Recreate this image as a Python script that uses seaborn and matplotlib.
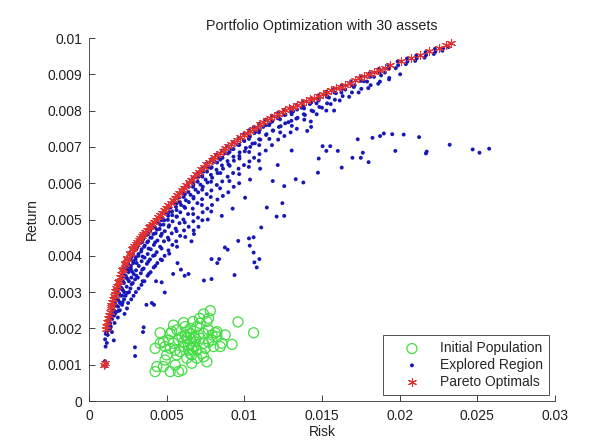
import matplotlib
matplotlib.use("Agg")
import matplotlib.pyplot as plt
import seaborn as sns

# ---------------- data ----------------
initial_risk = [0.00959, 0.0106, 0.00781, 0.00738, 0.00712, 0.00669, 0.00609, 0.00544, 0.00533,
                0.00458, 0.00479, 0.00426, 0.00437, 0.00426, 0.00523, 0.00598, 0.00576, 0.00555,
                0.0049, 0.00501, 0.00566, 0.0063, 0.00662, 0.00695, 0.00738, 0.00759, 0.00845,
                0.00856, 0.00921, 0.00877, 0.00813, 0.00792, 0.0077, 0.00738, 0.00716, 0.00673,
                0.00652, 0.0063, 0.00598, 0.00576, 0.00544, 0.00523, 0.00555, 0.00609, 0.00652,
                0.00684, 0.00673, 0.00641, 0.00587, 0.00738, 0.0077, 0.00792, 0.00748, 0.00727,
                0.00652, 0.00695, 0.00523, 0.00566, 0.00652, 0.00695, 0.00716, 0.00759, 0.0077,
                0.00824, 0.00802, 0.00824, 0.00619, 0.0049, 0.00458, 0.00512, 0.00479, 0.00662,
                0.00684, 0.00705, 0.0063, 0.00609, 0.00641, 0.00662, 0.00619]
initial_return = [0.00218, 0.00188, 0.00249, 0.0024, 0.00228, 0.00219, 0.00216, 0.00209, 0.00191,
                  0.00188, 0.00163, 0.00145, 0.00095, 0.00081, 0.00081, 0.00085, 0.00081, 0.00099,
                  0.00113, 0.00127, 0.00127, 0.00118, 0.00127, 0.0014, 0.00122, 0.00108, 0.0015,
                  0.00159, 0.00156, 0.00182, 0.00188, 0.00182, 0.00196, 0.00186, 0.00173, 0.00177,
                  0.00186, 0.00191, 0.00177, 0.00168, 0.00159, 0.00145, 0.0014, 0.0015, 0.00159,
                  0.00163, 0.0015, 0.0014, 0.00136, 0.00159, 0.00163, 0.00168, 0.00145, 0.00131,
                  0.00131, 0.00118, 0.00186, 0.00196, 0.002, 0.00205, 0.00214, 0.00219, 0.00228,
                  0.00191, 0.0015, 0.00177, 0.00205, 0.0015, 0.00159, 0.00168, 0.00095, 0.00104,
                  0.00173, 0.00182, 0.00173, 0.00163, 0.00154, 0.00145, 0.00182]

# scattered explored solutions
explored_risk = [
    0.00105, 0.00103, 0.00107, 0.00104, 0.00108,
    0.00115, 0.00113, 0.00117,
    0.00125, 0.00127, 0.00123,
    0.00135, 0.00133, 0.00137,
    0.00148, 0.00150, 0.00146, 0.00149,
    0.00160, 0.00158, 0.00162, 0.00161,
    0.00172, 0.00170, 0.00174,
    0.00185, 0.00183, 0.00187, 0.00186,
    0.00198, 0.00196, 0.00200, 0.00199,
    0.00212, 0.00210, 0.00214, 0.00213,
    0.00225, 0.00223, 0.00227, 0.00226, 0.00229,
    0.00240, 0.00238, 0.00243, 0.00236, 0.00245,
    0.00255, 0.00253, 0.00257, 0.00258, 0.00252,
    0.00270, 0.00268, 0.00273, 0.00267, 0.00272,
    0.00285, 0.00283, 0.00288, 0.00282, 0.00287,
    0.00300, 0.00298, 0.00303, 0.00297, 0.00296, 0.00297, 0.00302,
    0.00318, 0.00316, 0.00321, 0.00315, 0.00320,
    0.00336, 0.00333, 0.00339, 0.00334, 0.00338,
    0.00355, 0.00353, 0.00358, 0.00352, 0.00357, 0.00352, 0.00348,
    0.00375, 0.00372, 0.00378, 0.00373, 0.00377, 0.00370,
    0.00395, 0.00392, 0.00398, 0.00393, 0.00397, 0.00405,
    0.00415, 0.00412, 0.00418, 0.00413, 0.00417, 0.00419,
    0.00438, 0.00435, 0.00441, 0.00436, 0.00440, 0.00432,
    0.00460, 0.00457, 0.00463, 0.00458, 0.00462, 0.00468,
    0.00485, 0.00482, 0.00488, 0.00483, 0.00487, 0.00488,
    0.00510, 0.00507, 0.00513, 0.00508, 0.00512, 0.00542,
    0.00535, 0.00532, 0.00538, 0.00533, 0.00537, 0.00592,
    0.00560, 0.00557, 0.00563, 0.00558, 0.00562, 0.00570,
    0.00585, 0.00582, 0.00588, 0.00583, 0.00587, 0.00616,
    0.00610, 0.00607, 0.00613, 0.00608, 0.00612, 0.00641,
    0.00640, 0.00637, 0.00643, 0.00638, 0.00642, 0.00660,
    0.00670, 0.00667, 0.00673, 0.00668, 0.00672, 0.00676,
    0.00700, 0.00697, 0.00703, 0.00698, 0.00702, 0.00705,
    0.00730, 0.00727, 0.00733, 0.00728, 0.00732, 0.00740,
    0.00760, 0.00757, 0.00763, 0.00758, 0.00762, 0.00765,
    0.00790, 0.00787, 0.00793, 0.00788, 0.00792, 0.00789, 0.00789,
    0.00825, 0.00822, 0.00828, 0.00823, 0.00827, 0.00826, 0.00838,
    0.00860, 0.00857, 0.00863, 0.00858, 0.00862, 0.00855,
    0.00895, 0.00892, 0.00898, 0.00893, 0.00897, 0.00875, 0.00893,
    0.00930, 0.00927, 0.00933, 0.00928, 0.00932, 0.00925,
    0.00965, 0.00962, 0.00968, 0.00963, 0.00967, 0.00961, 0.00937,
    0.01000, 0.00997, 0.01003, 0.00998, 0.01005,
    0.01035, 0.01032, 0.01038, 0.01033, 0.01037, 0.01030, 0.01035,
    0.01065, 0.01062, 0.01068, 0.01063, 0.01060, 0.01060, 0.01065,
    0.01100, 0.01097, 0.01103, 0.01098, 0.01102, 0.01109, 0.01097, 0.01080,
    0.01140, 0.01137, 0.01143, 0.01138, 0.01145,
    0.01180, 0.01177, 0.01183, 0.01178, 0.01183,
    0.01220, 0.01217, 0.01223, 0.01218, 0.01215, 0.01208,
    0.01260, 0.01257, 0.01263, 0.01258, 0.01257, 0.01245, 0.01257,
    0.01300, 0.01297, 0.01303, 0.01298, 0.01305,
    0.01340, 0.01337, 0.01343, 0.01338, 0.01331,
    0.01380, 0.01377, 0.01383, 0.01405, 0.01380,
    0.01430, 0.01427, 0.01433, 0.01428, 0.01430,
    0.01480, 0.01477, 0.01483, 0.01479, 0.01474,
    0.01530, 0.01527, 0.01533, 0.01528, 0.01504,
    0.01580, 0.01577, 0.01583, 0.01578,
    0.01630, 0.01627, 0.01633, 0.01627, 0.01602,
    0.01690, 0.01687, 0.01693, 0.01696,
    0.01750, 0.01747, 0.01753, 0.01750, 0.01730,
    0.01810, 0.01807, 0.01813, 0.01800, 0.01825,
    0.01870, 0.01867, 0.01873, 0.01874,
    0.01930, 0.01927, 0.01933, 0.01952,
    0.01990, 0.01987, 0.01898,
    0.02050, 0.02047, 0.02026,
    0.02110, 0.02107, 0.02125,
    0.02170, 0.02167, 0.02169, 0.02174,
    0.02230, 0.02227,
    0.02280, 0.02322, 0.02470, 0.02514, 0.02576, 0.01972, 0.01763, 0.01553, 0.01528,
]
explored_return = [
    0.00095, 0.00110, 0.00150, 0.00170, 0.00185,
    0.00160, 0.00190, 0.00200,
    0.00195, 0.00210, 0.00220,
    0.00215, 0.00230, 0.00200,
    0.00190, 0.00240, 0.00255, 0.00225,
    0.00167, 0.00250, 0.00270, 0.00235,
    0.00265, 0.00285, 0.00245,
    0.00280, 0.00300, 0.00260, 0.00230,
    0.00290, 0.00318, 0.00270, 0.00250,
    0.00310, 0.00335, 0.00290, 0.00265,
    0.00325, 0.00350, 0.00300, 0.00280, 0.00240,
    0.00340, 0.00365, 0.00315, 0.00290, 0.00255,
    0.00355, 0.00378, 0.00330, 0.00300, 0.00270,
    0.00365, 0.00392, 0.00340, 0.00310, 0.00280,
    0.00380, 0.00405, 0.00350, 0.00325, 0.00290,
    0.00390, 0.00418, 0.00360, 0.00335, 0.00148, 0.00124, 0.00300,
    0.00400, 0.00428, 0.00372, 0.00340, 0.00310,
    0.00412, 0.00440, 0.00385, 0.00352, 0.00320,
    0.00425, 0.00452, 0.00395, 0.00365, 0.00330, 0.00203, 0.00190,
    0.00437, 0.00462, 0.00405, 0.00378, 0.00345, 0.00265,
    0.00450, 0.00473, 0.00418, 0.00390, 0.00355, 0.00270,
    0.00460, 0.00484, 0.00430, 0.00400, 0.00368, 0.00265,
    0.00472, 0.00495, 0.00442, 0.00410, 0.00380, 0.00330,
    0.00485, 0.00507, 0.00455, 0.00425, 0.00390, 0.00327,
    0.00498, 0.00520, 0.00468, 0.00440, 0.00400, 0.00299,
    0.00510, 0.00532, 0.00480, 0.00450, 0.00415, 0.00350,
    0.00522, 0.00545, 0.00495, 0.00462, 0.00430, 0.00362,
    0.00535, 0.00558, 0.00508, 0.00475, 0.00440, 0.00380,
    0.00548, 0.00572, 0.00520, 0.00490, 0.00455, 0.00345,
    0.00562, 0.00586, 0.00535, 0.00500, 0.00470, 0.00350,
    0.00576, 0.00600, 0.00548, 0.00515, 0.00480, 0.00440,
    0.00590, 0.00614, 0.00562, 0.00530, 0.00495, 0.00460,
    0.00604, 0.00627, 0.00575, 0.00545, 0.00505, 0.00480,
    0.00618, 0.00640, 0.00590, 0.00556, 0.00520, 0.00332,
    0.00632, 0.00654, 0.00602, 0.00570, 0.00530, 0.00500,
    0.00644, 0.00666, 0.00615, 0.00580, 0.00540, 0.00391, 0.00336,
    0.00657, 0.00679, 0.00628, 0.00595, 0.00555, 0.00380, 0.00391,
    0.00670, 0.00690, 0.00640, 0.00605, 0.00565, 0.00510,
    0.00682, 0.00702, 0.00652, 0.00618, 0.00575, 0.00423, 0.00417,
    0.00694, 0.00713, 0.00662, 0.00628, 0.00590, 0.00530,
    0.00705, 0.00724, 0.00675, 0.00640, 0.00600, 0.00441, 0.00347,
    0.00716, 0.00735, 0.00688, 0.00650, 0.00560,
    0.00728, 0.00746, 0.00700, 0.00660, 0.00610, 0.00448, 0.00428,
    0.00738, 0.00755, 0.00710, 0.00670, 0.00451, 0.00409, 0.00382,
    0.00748, 0.00764, 0.00720, 0.00680, 0.00640, 0.00478, 0.00391, 0.00368,
    0.00760, 0.00775, 0.00735, 0.00690, 0.00533,
    0.00770, 0.00786, 0.00745, 0.00705, 0.00606,
    0.00780, 0.00794, 0.00755, 0.00720, 0.00650, 0.00508,
    0.00788, 0.00802, 0.00765, 0.00730, 0.00592, 0.00545, 0.00510,
    0.00796, 0.00808, 0.00772, 0.00740, 0.00690,
    0.00803, 0.00815, 0.00780, 0.00750, 0.00611,
    0.00812, 0.00823, 0.00790, 0.00744, 0.00602,
    0.00822, 0.00832, 0.00800, 0.00770, 0.00755,
    0.00832, 0.00842, 0.00810, 0.00668, 0.00629,
    0.00842, 0.00852, 0.00820, 0.00800, 0.00702,
    0.00850, 0.00860, 0.00830, 0.00800,
    0.00860, 0.00870, 0.00840, 0.00643, 0.00689,
    0.00870, 0.00880, 0.00850, 0.00670,
    0.00882, 0.00892, 0.00860, 0.00670, 0.00721,
    0.00893, 0.00903, 0.00870, 0.00658, 0.00725,
    0.00905, 0.00915, 0.00880, 0.00730,
    0.00915, 0.00925, 0.00890, 0.00735,
    0.00925, 0.00935, 0.00737,
    0.00935, 0.00943, 0.00734,
    0.00944, 0.00952, 0.00727,
    0.00953, 0.00961, 0.00682, 0.00687,
    0.00962, 0.00970,
    0.00972, 0.00706, 0.00693, 0.00684, 0.00695, 0.00689, 0.00684, 0.00702, 0.00689,
]

# dense band of explored solutions right under the front
band_risk = [
    0.00130, 0.00136, 0.00145, 0.00151, 0.00155, 0.00161, 0.00165, 0.00171, 0.00176, 0.00182,
    0.00188, 0.00194, 0.00200, 0.00207, 0.00215, 0.00222, 0.00230, 0.00237, 0.00245, 0.00253,
    0.00262, 0.00270, 0.00278, 0.00286, 0.00292, 0.00301, 0.00310, 0.00319, 0.00330, 0.00339,
    0.00350, 0.00359, 0.00372, 0.00381, 0.00395, 0.00404, 0.00420, 0.00429, 0.00445, 0.00455,
    0.00470, 0.00480, 0.00498, 0.00508, 0.00525, 0.00536, 0.00553, 0.00564, 0.00582, 0.00593,
    0.00612, 0.00624, 0.00642, 0.00654, 0.00674, 0.00686, 0.00706, 0.00718, 0.00738, 0.00751,
    0.00772, 0.00785, 0.00808, 0.00821, 0.00842, 0.00856, 0.00878, 0.00892, 0.00916, 0.00930,
    0.00955, 0.00970, 0.00995, 0.01010, 0.01036, 0.01052, 0.01080, 0.01096, 0.01122, 0.01140,
    0.01168, 0.01186, 0.01215, 0.01234, 0.01265, 0.01284, 0.01315, 0.01335, 0.01368, 0.01390,
    0.01422, 0.01444, 0.01478, 0.01500, 0.01532, 0.01556, 0.01590, 0.01614, 0.01650, 0.01675,
    0.01710, 0.01736, 0.01770, 0.01798, 0.01835, 0.01862, 0.01905, 0.01932, 0.01975, 0.02003,
    0.02040, 0.02100, 0.02160, 0.02220, 0.02275, 0.02315,
]
band_return = [
    0.00226, 0.00212, 0.00252, 0.00238, 0.00268, 0.00250, 0.00283, 0.00264, 0.00297, 0.00280,
    0.00314, 0.00296, 0.00330, 0.00312, 0.00347, 0.00328, 0.00365, 0.00345, 0.00378, 0.00360,
    0.00392, 0.00372, 0.00405, 0.00385, 0.00414, 0.00396, 0.00425, 0.00405, 0.00437, 0.00418,
    0.00447, 0.00428, 0.00458, 0.00440, 0.00470, 0.00450, 0.00481, 0.00462, 0.00493, 0.00474,
    0.00506, 0.00486, 0.00519, 0.00499, 0.00533, 0.00512, 0.00547, 0.00526, 0.00561, 0.00540,
    0.00575, 0.00553, 0.00590, 0.00568, 0.00604, 0.00582, 0.00618, 0.00596, 0.00632, 0.00610,
    0.00645, 0.00623, 0.00659, 0.00637, 0.00671, 0.00649, 0.00683, 0.00661, 0.00695, 0.00673,
    0.00707, 0.00685, 0.00719, 0.00697, 0.00731, 0.00709, 0.00743, 0.00721, 0.00755, 0.00733,
    0.00767, 0.00745, 0.00779, 0.00757, 0.00789, 0.00768, 0.00798, 0.00778, 0.00808, 0.00788,
    0.00818, 0.00798, 0.00828, 0.00808, 0.00838, 0.00818, 0.00848, 0.00828, 0.00858, 0.00838,
    0.00870, 0.00850, 0.00881, 0.00862, 0.00893, 0.00874, 0.00905, 0.00886, 0.00917, 0.00900,
    0.00928, 0.00937, 0.00946, 0.00956, 0.00965, 0.00975,
]

# further explored solutions filling the wide band below the front
fill_risk = [
    0.00120, 0.00121,
    0.00142, 0.00141,
    0.00166, 0.00167, 0.00165,
    0.00190, 0.00191, 0.00189,
    0.00218, 0.00219, 0.00217,
    0.00248, 0.00249, 0.00247,
    0.00276, 0.00277, 0.00275,
    0.00306, 0.00307, 0.00305,
    0.00344, 0.00345, 0.00343, 0.00346,
    0.00383, 0.00384, 0.00382, 0.00385,
    0.00425, 0.00426, 0.00424, 0.00427,
    0.00468, 0.00469, 0.00467, 0.00470,
    0.00515, 0.00516, 0.00514, 0.00517,
    0.00565, 0.00566, 0.00564, 0.00567,
    0.00618, 0.00619, 0.00617, 0.00620,
    0.00672, 0.00673, 0.00671, 0.00674,
    0.00728, 0.00729, 0.00727, 0.00730,
    0.00785, 0.00786, 0.00784, 0.00787,
    0.00845, 0.00846, 0.00844,
    0.00905, 0.00906, 0.00904,
    0.00968, 0.00969, 0.00967,
    0.01030, 0.01031, 0.01029,
    0.01095, 0.01096, 0.01094,
    0.01160, 0.01161,
    0.01230, 0.01231,
    0.01305, 0.01306,
    0.01385, 0.01386,
    0.01465, 0.01466,
    0.01545, 0.01625, 0.01705, 0.01790, 0.01880,
]
fill_return = [
    0.00205, 0.00182,
    0.00233, 0.00205,
    0.00272, 0.00240, 0.00215,
    0.00312, 0.00276, 0.00248,
    0.00344, 0.00305, 0.00272,
    0.00370, 0.00336, 0.00298,
    0.00398, 0.00357, 0.00322,
    0.00420, 0.00380, 0.00345,
    0.00438, 0.00398, 0.00362, 0.00330,
    0.00460, 0.00420, 0.00384, 0.00350,
    0.00478, 0.00437, 0.00402, 0.00372,
    0.00498, 0.00461, 0.00420, 0.00388,
    0.00520, 0.00484, 0.00444, 0.00406,
    0.00545, 0.00508, 0.00468, 0.00425,
    0.00570, 0.00532, 0.00492, 0.00452,
    0.00596, 0.00558, 0.00515, 0.00470,
    0.00620, 0.00582, 0.00540, 0.00498,
    0.00642, 0.00604, 0.00562, 0.00522,
    0.00665, 0.00628, 0.00586,
    0.00686, 0.00648, 0.00606,
    0.00706, 0.00668, 0.00625,
    0.00722, 0.00686, 0.00645,
    0.00740, 0.00705, 0.00662,
    0.00760, 0.00722,
    0.00776, 0.00740,
    0.00790, 0.00758,
    0.00806, 0.00775,
    0.00820, 0.00790,
    0.00836, 0.00850, 0.00865, 0.00880, 0.00897,
]

pareto_risk = [0.00098, 0.00102, 0.00108, 0.00112, 0.00118, 0.00125, 0.00133, 0.00141, 0.00150,
               0.00160, 0.00170, 0.00180, 0.00192, 0.00205, 0.00218, 0.00232, 0.00248, 0.00265,
               0.00282, 0.00300, 0.00320, 0.00340, 0.00362, 0.00385, 0.00408, 0.00432, 0.00458,
               0.00485, 0.00512, 0.00540, 0.00568, 0.00597, 0.00627, 0.00658, 0.00690, 0.00722,
               0.00755, 0.00790, 0.00825, 0.00860, 0.00897, 0.00935, 0.00975, 0.01015, 0.01058,
               0.01100, 0.01145, 0.01190, 0.01240, 0.01290, 0.01340, 0.01395, 0.01450, 0.01505,
               0.01560, 0.01620, 0.01680, 0.01740, 0.01800, 0.01870, 0.01940, 0.02010, 0.02070,
               0.02130, 0.02190, 0.02250, 0.02300, 0.02330,
               0.00130, 0.00145, 0.00155, 0.00165, 0.00176, 0.00188, 0.00200, 0.00215, 0.00230,
               0.00245, 0.00262, 0.00278, 0.00292, 0.00310, 0.00330, 0.00350, 0.00372, 0.00395,
               0.00420, 0.00445, 0.00470, 0.00498, 0.00525, 0.00553, 0.00582, 0.00612, 0.00642,
               0.00674, 0.00706, 0.00738, 0.00772, 0.00808, 0.00842, 0.00878, 0.00916, 0.00955,
               0.00995, 0.01036, 0.01080, 0.01122, 0.01168, 0.01215, 0.01265, 0.01315, 0.01368,
               0.01422, 0.01478, 0.01532, 0.01590, 0.01650, 0.01710, 0.01770, 0.01835, 0.01905]
pareto_return = [0.00100, 0.00104, 0.00198, 0.00208, 0.00218, 0.00230, 0.00244, 0.00258, 0.00272,
                 0.00288, 0.00302, 0.00316, 0.00332, 0.00350, 0.00364, 0.00380, 0.00394, 0.00408,
                 0.00421, 0.00432, 0.00444, 0.00455, 0.00466, 0.00478, 0.00489, 0.00500, 0.00513,
                 0.00526, 0.00539, 0.00553, 0.00567, 0.00581, 0.00596, 0.00610, 0.00624, 0.00638,
                 0.00652, 0.00665, 0.00678, 0.00690, 0.00702, 0.00714, 0.00726, 0.00738, 0.00750,
                 0.00762, 0.00774, 0.00786, 0.00797, 0.00807, 0.00816, 0.00826, 0.00836, 0.00846,
                 0.00856, 0.00866, 0.00877, 0.00889, 0.00900, 0.00912, 0.00925, 0.00936, 0.00945,
                 0.00954, 0.00963, 0.00973, 0.00981, 0.00986,
                 0.00238, 0.00265, 0.00280, 0.00295, 0.00310, 0.00327, 0.00342, 0.00360, 0.00378,
                 0.00391, 0.00405, 0.00418, 0.00427, 0.00438, 0.00450, 0.00460, 0.00471, 0.00483,
                 0.00494, 0.00506, 0.00519, 0.00532, 0.00546, 0.00560, 0.00574, 0.00588, 0.00603,
                 0.00617, 0.00631, 0.00645, 0.00658, 0.00672, 0.00684, 0.00696, 0.00708, 0.00720,
                 0.00732, 0.00744, 0.00756, 0.00768, 0.00780, 0.00792, 0.00802, 0.00811, 0.00821,
                 0.00831, 0.00841, 0.00851, 0.00861, 0.00871, 0.00883, 0.00894, 0.00906, 0.00918]

x_ticks = [0, 0.005, 0.01, 0.015, 0.02, 0.025, 0.03]
x_tick_labels = ["0", "0.005", "0.01", "0.015", "0.02", "0.025", "0.03"]
y_ticks = [0, 0.001, 0.002, 0.003, 0.004, 0.005, 0.006, 0.007, 0.008, 0.009, 0.01]
y_tick_labels = ["0", "0.001", "0.002", "0.003", "0.004", "0.005", "0.006", "0.007",
                 "0.008", "0.009", "0.01"]

# ---------------- styling ----------------
sns.set_theme(style="white")
plt.rcParams['font.family'] = ['Liberation Sans', 'DejaVu Sans']
plt.rcParams['font.size'] = 10

fig = plt.figure(figsize=(6.01, 4.44), dpi=100)
ax = fig.add_axes([0.148, 0.0968, 0.7755, 0.8176])

all_explored_risk = explored_risk + band_risk + fill_risk
all_explored_return = explored_return + band_return + fill_return

sns.scatterplot(x=initial_risk, y=initial_return, ax=ax, marker='o', s=52,
                facecolors='none', edgecolor='#44dd44', linewidth=0.9,
                label='Initial Population', zorder=2)
sns.scatterplot(x=all_explored_risk, y=all_explored_return, ax=ax, marker='o', s=8,
                color='#1818b8', edgecolor='none', linewidth=0,
                label='Explored Region', zorder=3)
sns.scatterplot(x=pareto_risk, y=pareto_return, ax=ax, marker=(6, 2, 0), s=34,
                color='#e03030', edgecolor='#e03030', linewidth=0.8,
                label='Pareto Optimals', zorder=4)

ax.set_xlim(0, 0.03)
ax.set_ylim(0, 0.01)
ax.set_xticks(x_ticks)
ax.set_xticklabels(x_tick_labels)
ax.set_yticks(y_ticks)
ax.set_yticklabels(y_tick_labels)
ax.tick_params(direction='in', length=4, width=0.6, colors='#222222', labelsize=10,
               bottom=True, left=True)
ax.tick_params(axis='x', pad=6)
ax.tick_params(axis='y', pad=5)
for side in ['top', 'right']:
    ax.spines[side].set_visible(False)
for side in ['left', 'bottom']:
    ax.spines[side].set_color('#333333')
    ax.spines[side].set_linewidth(0.6)

ax.set_title('Portfolio Optimization with 30 assets', fontsize=10.3, pad=6, color='#222222')
ax.set_xlabel('Risk', fontsize=10, labelpad=1, color='#222222')
ax.set_ylabel('Return', fontsize=10, labelpad=6, color='#222222')

leg = ax.legend(loc='lower right', bbox_to_anchor=(0.987, 0.0165), borderaxespad=0,
                frameon=True, fancybox=False, edgecolor='#222222', fontsize=10,
                handletextpad=0.35, handlelength=3.3, borderpad=0.45, labelspacing=0.2,
                markerscale=1.0)
leg.get_frame().set_linewidth(0.7)

fig.savefig('out.png', dpi=100)
